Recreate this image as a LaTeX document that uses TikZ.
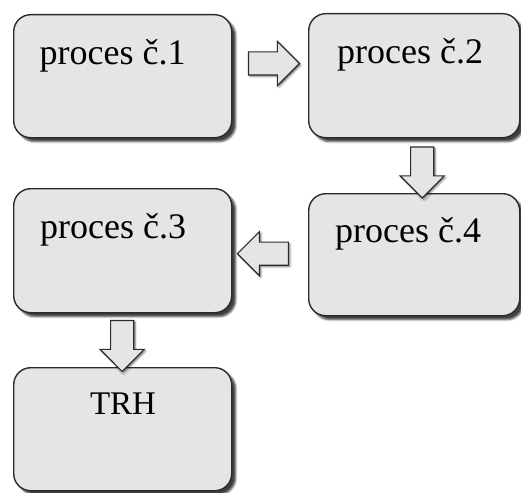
\documentclass[tikz,border=0pt]{standalone}
\usepackage{fontspec}
\setmainfont{Liberation Serif}
\usetikzlibrary{shapes.arrows,shadows.blur,calc}
\definecolor{boxfill}{HTML}{E5E5E5}
\definecolor{boxline}{HTML}{2A2A2A}
\begin{document}
\begin{tikzpicture}[x=1pt,y=-1pt,
  procbox/.style={draw=boxline, fill=boxfill, line width=1.4pt,
    rounded corners=17pt, inner sep=0pt, anchor=north west,
    blur shadow={shadow xshift=4pt, shadow yshift=-4pt,
      shadow blur steps=5, shadow opacity=75}},
  proclabel/.style={font=\fontsize{36}{40}\selectfont, inner sep=0pt,
    anchor=base west, text=black},
  blockarrow/.style={single arrow, draw=boxline, fill=boxfill,
    line width=1.1pt, minimum height=51pt, inner xsep=0pt, inner ysep=11pt,
    single arrow head extend=10.5pt, single arrow tip angle=90,
    blur shadow={shadow xshift=1.5pt, shadow yshift=-1.5pt,
      shadow blur steps=3, shadow opacity=55}}]

\useasboundingbox (0,0) rectangle (521,492);

% process boxes
\node[procbox, minimum width=218pt, minimum height=123pt] (p1) at (13,14) {};
\node[procbox, minimum width=211pt, minimum height=124pt] (p2) at (308,13) {};
\node[procbox, minimum width=218pt, minimum height=124pt] (p3) at (13,188) {};
\node[procbox, minimum width=211pt, minimum height=122pt] (p4) at (308,193) {};
\node[procbox, minimum width=218pt, minimum height=123pt] (trh) at (13,367) {};

% box captions
\node[proclabel] (l1) at (39.5,65) {proces č.1};
\node[proclabel] (l2) at (337,63.5) {proces č.2};
\node[proclabel] (l3) at (40,238) {proces č.3};
\node[proclabel] (l4) at (335,242.5) {proces č.4};
\node[proclabel, font=\fontsize{33}{40}\selectfont, anchor=base] (l5) at (123,414) {TRH};

% block arrows between the steps
\node[blockarrow] (a12) at ($(p1.north east)!0.5!(p2.north west)+(-2,50)$) {};
\node[blockarrow, rotate=-90] (a24) at ($(p2.south)!0.5!(p4.north)+(8,1)$) {};
\node[blockarrow, rotate=180] (a43) at ($(p3.east)!0.5!(p4.west)+(-1.5,1)$) {};
\node[blockarrow, rotate=-90] (a3t) at ($(p3.south)!0.5!(trh.north)+(-0.5,0)$) {};
\end{tikzpicture}
\end{document}
